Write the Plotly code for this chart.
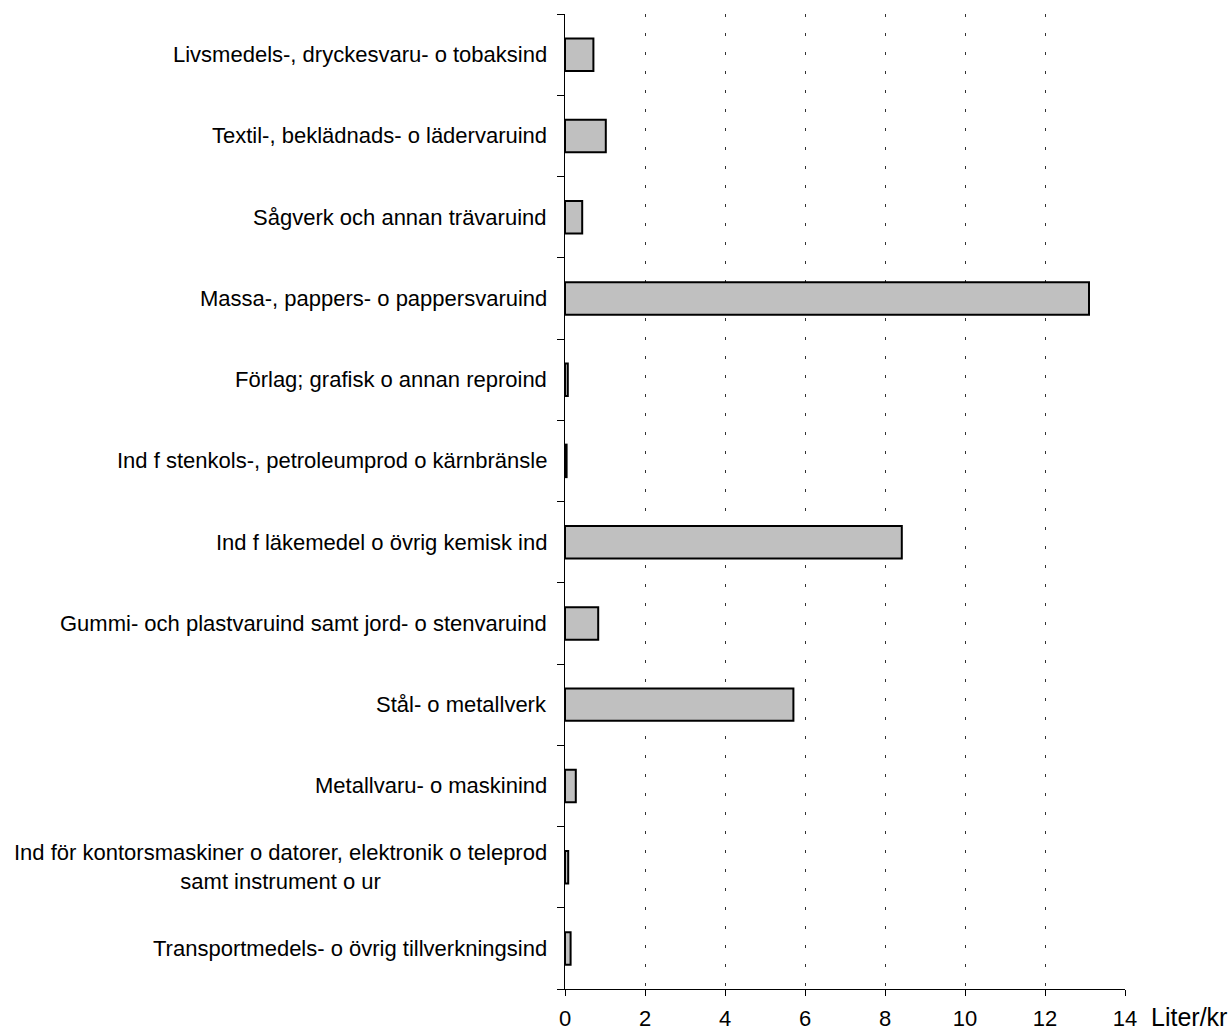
import plotly.graph_objects as go

# Industry branches (top to bottom) and water use per krona of output
branches = [
    "Livsmedels-, dryckesvaru- o tobaksind",
    "Textil-, beklädnads- o lädervaruind",
    "Sågverk och annan trävaruind",
    "Massa-, pappers- o pappersvaruind",
    "Förlag; grafisk o annan reproind",
    "Ind f stenkols-, petroleumprod o kärnbränsle",
    "Ind f läkemedel o övrig kemisk ind",
    "Gummi- och plastvaruind samt jord- o stenvaruind",
    "Stål- o metallverk",
    "Metallvaru- o maskinind",
    "Ind för kontorsmaskiner o datorer, elektronik o teleprod<br>samt instrument o ur",
    "Transportmedels- o övrig tillverkningsind",
]
liter_per_kr = [0.71, 1.02, 0.43, 13.1, 0.07, 0.04, 8.42, 0.83, 5.71, 0.27, 0.08, 0.14]

x_ticks = [0, 2, 4, 6, 8, 10, 12, 14]
unit_label = "Liter/kr"

FONT = "Liberation Sans, Arial, sans-serif"
positions = list(range(len(branches)))

fig = go.Figure()
fig.add_trace(go.Bar(
    x=liter_per_kr,
    y=positions,
    orientation="h",
    marker=dict(color="#c0c0c0", line=dict(color="black", width=2)),
    hoverinfo="x",
))

# Category labels as annotations so the two-line label is centred
for pos, name in zip(positions, branches):
    fig.add_annotation(
        x=0, xref="paper", y=pos, yref="y",
        text=name, showarrow=False,
        xanchor="right", yanchor="middle", align="center",
        xshift=-16,
        font=dict(family=FONT, size=22, color="black"),
    )

# Unit label to the right of the x-axis tick labels
fig.add_annotation(
    x=1, xref="paper", y=0, yref="paper",
    text=unit_label, showarrow=False,
    xanchor="left", yanchor="bottom", xshift=25, yshift=-43,
    borderpad=0,
    font=dict(family=FONT, size=25, color="black"),
)

fig.update_layout(
    width=1231, height=1032,
    margin=dict(l=565, r=106, t=14, b=43),
    paper_bgcolor="white", plot_bgcolor="white",
    bargap=0.6,
    showlegend=False,
    font=dict(family=FONT, size=22, color="black"),
)

fig.update_xaxes(
    range=[0, 14],
    tickvals=x_ticks,
    ticktext=[str(v) for v in x_ticks],
    ticks="outside", ticklen=6, tickcolor="black", tickwidth=1,
    showline=True, linecolor="black", linewidth=1,
    showgrid=True, gridcolor="#333333", gridwidth=1, griddash="3px,16px",
    zeroline=False,
    automargin=False,
    ticklabelstandoff=4,
    tickfont=dict(family=FONT, size=22, color="black"),
)

fig.update_yaxes(
    range=[len(branches) - 0.5, -0.5],
    tickvals=[p - 0.5 for p in positions] + [len(branches) - 0.5],
    ticktext=[""] * (len(branches) + 1),
    ticks="outside", ticklen=7, tickcolor="black", tickwidth=1,
    showline=True, linecolor="black", linewidth=1,
    showgrid=False, zeroline=False,
    automargin=False,
)

fig.write_html("out.html")
